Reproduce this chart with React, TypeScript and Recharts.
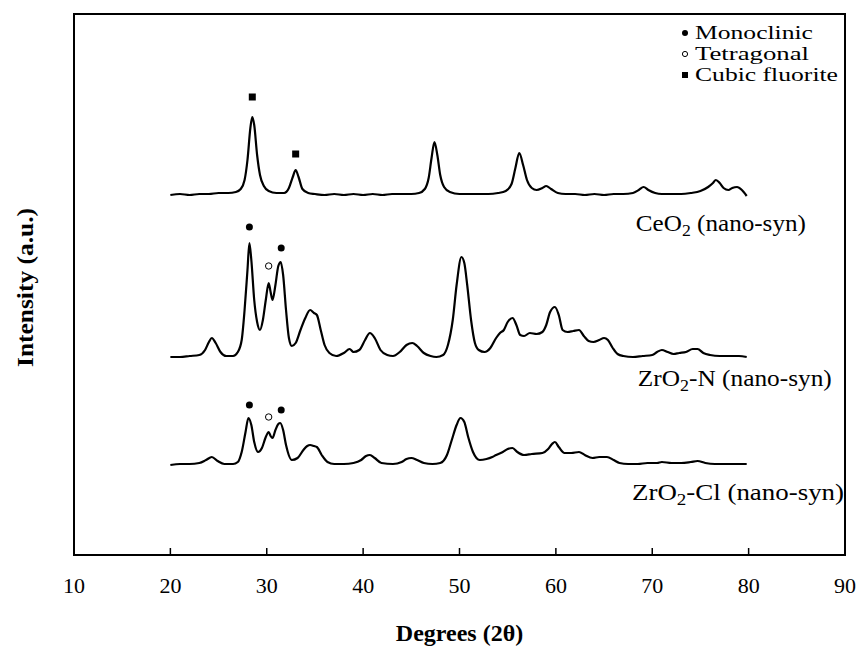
import React from 'react';
import { ComposedChart, Line, Scatter, XAxis, YAxis, ReferenceArea, ReferenceDot } from 'recharts';

const FONT = '"Liberation Serif", "Times New Roman", serif';

const xTicks = [10, 20, 30, 40, 50, 60, 70, 80, 90];

const ceo2Angle = [20, 21, 22, 23, 24, 25, 26, 26.8, 27.3, 27.7, 28, 28.3, 28.5, 28.7, 29, 29.3, 29.7, 30.2, 31, 31.8, 32.3, 32.7, 33, 33.3, 33.7, 34.3, 35, 36, 37, 38, 39, 40, 41, 42, 43, 44, 45, 45.8, 46.4, 46.8, 47.1, 47.4, 47.7, 48, 48.4, 49, 50, 51, 52, 53, 54, 54.8, 55.4, 55.8, 56.2, 56.6, 57, 57.5, 58, 58.6, 59, 59.5, 60.2, 61, 62, 63, 64, 65, 66, 67, 68, 68.6, 69.1, 69.6, 70.3, 71, 72, 73, 74, 75, 75.8, 76.3, 76.6, 77, 77.4, 77.9, 78.3, 78.8, 79.3, 79.8];
const ceo2Intensity = [360, 361, 360, 361, 361, 362, 362, 363, 366, 375, 395, 427, 438, 430, 400, 380, 369, 364, 362, 362, 367, 378, 385, 378, 366, 362, 361, 360, 361, 360, 361, 360, 361, 360, 361, 361, 361, 362, 366, 377, 397, 413, 400, 380, 368, 363, 361, 361, 361, 361, 362, 364, 371, 387, 402, 390, 375, 367, 365, 367, 369, 366, 362, 361, 361, 360, 361, 360, 361, 361, 362, 365, 368, 365, 362, 361, 361, 361, 362, 364, 368, 372, 375, 372, 367, 365, 367, 368, 365, 359];

const zrnAngle = [20, 21, 22, 23, 23.6, 24, 24.3, 24.7, 25.2, 25.8, 26.5, 27, 27.4, 27.7, 28, 28.2, 28.4, 28.7, 29, 29.3, 29.6, 29.9, 30.2, 30.4, 30.6, 30.9, 31.2, 31.45, 31.7, 32, 32.3, 32.6, 33, 33.5, 34, 34.5, 34.9, 35.2, 35.6, 36, 36.5, 37.2, 38, 38.6, 39, 39.6, 40.2, 40.7, 41.2, 41.8, 42.5, 43.1, 43.8, 44.5, 45.1, 45.6, 46.3, 47, 47.6, 48.3, 48.8, 49.3, 49.7, 50.2, 50.5, 50.8, 51.2, 51.6, 52, 52.6, 53.2, 53.8, 54.2, 54.6, 55, 55.5, 55.9, 56.3, 56.7, 57.3, 58, 58.6, 59, 59.4, 59.9, 60.3, 60.7, 61.2, 61.8, 62.4, 62.9, 63.4, 63.9, 64.5, 65, 65.4, 65.9, 66.4, 67, 68, 69, 70, 70.5, 71, 71.6, 72.2, 72.8, 73.5, 74.2, 74.7, 75.3, 76, 77, 78, 79, 79.8];
const zrnIntensity = [198, 198, 199, 200, 205, 213, 217, 212, 203, 199, 199, 203, 215, 245, 285, 312, 295, 255, 233, 225, 235, 255, 272, 263, 255, 270, 289, 293, 280, 245, 217, 209, 212, 225, 237, 245, 242, 240, 225, 210, 202, 199, 202, 206, 203, 205, 215, 222, 217, 205, 200, 199, 203, 210, 212, 209, 202, 199, 198, 200, 210, 235, 270, 298, 292, 270, 235, 212, 205, 203, 207, 217, 222, 225, 233, 237, 230, 220, 219, 222, 221, 223, 230, 243, 248, 240, 225, 223, 224, 225, 219, 214, 213, 215, 217, 215, 207, 201, 199, 198, 199, 200, 203, 205, 203, 201, 202, 203, 206, 206, 202, 200, 199, 199, 199, 198];

const zrclAngle = [20, 21, 22, 23, 23.7, 24.3, 24.9, 25.6, 26.5, 27, 27.4, 27.8, 28.1, 28.4, 28.7, 29.1, 29.5, 29.9, 30.2, 30.4, 30.6, 30.9, 31.2, 31.4, 31.7, 32, 32.6, 33.2, 33.8, 34.2, 34.5, 34.9, 35.2, 35.7, 36.3, 37, 38, 39, 39.8, 40.3, 40.7, 41.2, 41.9, 43.1, 44, 44.5, 45, 45.6, 46.3, 47.2, 48, 48.7, 49.2, 49.7, 50.1, 50.5, 50.9, 51.4, 52.1, 52.8, 53.4, 53.8, 54.5, 55, 55.5, 56, 56.7, 57.5, 58.6, 59.2, 59.6, 59.9, 60.3, 60.9, 61.6, 62.4, 63, 63.8, 64.5, 65.3, 66, 66.6, 67.5, 68.5, 69.5, 70.5, 71, 72, 73, 74, 74.7, 75.5, 76.5, 77.5, 78.5, 79.8];
const zrclIntensity = [90, 91, 91, 92, 95, 98, 94, 91, 91, 93, 103, 123, 137, 130, 113, 103, 107, 118, 123, 119, 117, 125, 131, 132, 125, 110, 95, 97, 105, 109, 110, 109, 108, 100, 93, 91, 91, 92, 95, 99, 100, 97, 92, 91, 93, 96, 97, 95, 92, 91, 92, 100, 115, 130, 137, 133, 118, 103, 95, 96, 98, 100, 103, 106, 107, 103, 100, 101, 102, 106, 111, 113, 108, 102, 102, 103, 100, 97, 98, 98, 95, 92, 91, 91, 92, 92, 93, 92, 92, 93, 94, 92, 91, 91, 91, 91];

const monoclinicAngle = [28.2, 31.5, 28.2, 31.5];
const monoclinicIntensity = [328, 307, 150, 145];
const tetragonalAngle = [30.2, 30.2];
const tetragonalIntensity = [289, 138];
const cubicAngle = [28.5, 33.0];
const cubicIntensity = [458, 401];

const legendNames = ['Monoclinic', 'Tetragonal', 'Cubic fluorite'];
const legendWidths = [118, 114, 143];

const seriesLabelMain = ['CeO', 'ZrO', 'ZrO'];
const seriesLabelTail = [' (nano-syn)', '-N (nano-syn)', '-Cl (nano-syn)'];
const seriesLabelAngle = [68.3, 68.5, 67.9];
const seriesLabelIntensity = [324, 169, 55];
const seriesLabelWidths = [170, 194, 212];

const toPoints = (a: number[], v: number[]) => a.map((x, i) => ({ angle: x, intensity: v[i] }));

const ceo2Data = toPoints(ceo2Angle, ceo2Intensity);
const zrnData = toPoints(zrnAngle, zrnIntensity);
const zrclData = toPoints(zrclAngle, zrclIntensity);
const monoData = toPoints(monoclinicAngle, monoclinicIntensity);
const tetraData = toPoints(tetragonalAngle, tetragonalIntensity);
const cubicData = toPoints(cubicAngle, cubicIntensity);

const FilledCircle = (p: any) => <circle cx={p.cx} cy={p.cy} r={3.5} fill="#000" />;
const OpenCircle = (p: any) => <circle cx={p.cx} cy={p.cy} r={3.2} fill="#fff" stroke="#000" strokeWidth={1} />;
const FilledSquare = (p: any) => <rect x={p.cx - 3.5} y={p.cy - 3.5} width={7} height={7} fill="#000" />;

const XTick = (p: any) => {
  const { x, y, payload } = p;
  return (
    <g>
      <line x1={x} y1={y} x2={x} y2={y - 7} stroke="#000" strokeWidth={1.5} />
      <text x={x} y={y + 38} textAnchor="middle" fontFamily={FONT} fontSize={22} fill="#000">
        {payload.value}
      </text>
    </g>
  );
};

const XTitle = (p: any) => {
  const vb = p.viewBox;
  return (
    <text x={vb.x + vb.width / 2} y={vb.y + 86} textAnchor="middle" fontFamily={FONT} fontWeight="bold" fontSize={24} fill="#000">
      Degrees (2θ)
    </text>
  );
};

const YTitle = (p: any) => {
  const vb = p.viewBox;
  const cx = vb.x + 33;
  const cy = vb.y + vb.height / 2 + 3;
  return (
    <text x={cx} y={cy} transform={`rotate(-90, ${cx}, ${cy})`} textAnchor="middle" fontFamily={FONT} fontWeight="bold" fontSize={24} fill="#000" textLength={159} lengthAdjust="spacingAndGlyphs">
      Intensity (a.u.)
    </text>
  );
};

const makeSeriesLabel = (i: number) => (p: any) => {
  const vb = p.viewBox;
  return (
    <text x={vb.x} y={vb.y} fontFamily={FONT} fontSize={24} fill="#000" textLength={seriesLabelWidths[i]} lengthAdjust="spacingAndGlyphs">
      {seriesLabelMain[i]}
      <tspan fontSize={17} dy={5}>2</tspan>
      <tspan dy={-5}>{seriesLabelTail[i]}</tspan>
    </text>
  );
};

const legendShapes = [
  <circle cx={685} cy={0} r={3} fill="#000" />,
  <circle cx={685} cy={0} r={2.6} fill="#fff" stroke="#000" strokeWidth={1} />,
  <rect x={682} y={-3} width={6} height={6} fill="#000" />,
];

export default function App() {
  return (
    <div style={{ position: 'absolute', left: 0, top: 0, width: 858, height: 648, background: '#fff' }}>
      <ComposedChart width={858} height={648} margin={{ top: 14, right: 13, bottom: 0, left: 0 }}>
        <XAxis
          type="number"
          dataKey="angle"
          domain={[10, 90]}
          ticks={xTicks}
          allowDataOverflow
          height={93}
          axisLine={false}
          tickLine={false}
          tickSize={0}
          tickMargin={0}
          tick={<XTick />}
          label={XTitle}
          interval={0}
        />
        <YAxis
          type="number"
          dataKey="intensity"
          domain={[0, 541]}
          allowDataOverflow
          width={74}
          axisLine={false}
          tickLine={false}
          tick={false}
          label={YTitle}
        />
        <ReferenceArea x1={10} x2={90} y1={0} y2={541} fill="none" fillOpacity={0} stroke="#000" strokeWidth={2} />
        <Line data={ceo2Data} dataKey="intensity" type="monotone" stroke="#000" strokeWidth={2.2} dot={false} isAnimationActive={false} legendType="none" />
        <Line data={zrnData} dataKey="intensity" type="monotone" stroke="#000" strokeWidth={2.2} dot={false} isAnimationActive={false} legendType="none" />
        <Line data={zrclData} dataKey="intensity" type="monotone" stroke="#000" strokeWidth={2.2} dot={false} isAnimationActive={false} legendType="none" />
        <Scatter data={monoData} shape={FilledCircle} isAnimationActive={false} name="Monoclinic" />
        <Scatter data={tetraData} shape={OpenCircle} isAnimationActive={false} name="Tetragonal" />
        <Scatter data={cubicData} shape={FilledSquare} isAnimationActive={false} name="Cubic fluorite" />
        {seriesLabelAngle.map((a, i) => (
          <ReferenceDot key={i} x={a} y={seriesLabelIntensity[i]} r={0} fill="none" stroke="none" label={makeSeriesLabel(i)} />
        ))}
      </ComposedChart>
      <svg width={858} height={100} style={{ position: 'absolute', left: 0, top: 0, pointerEvents: 'none' }}>
        {legendNames.map((n, i) => (
          <g key={n} transform={`translate(0, ${33 + i * 21})`}>
            {legendShapes[i]}
            <text x={695} y={6} fontFamily={FONT} fontSize={18} fill="#000" textLength={legendWidths[i]} lengthAdjust="spacingAndGlyphs">
              {n}
            </text>
          </g>
        ))}
      </svg>
    </div>
  );
}
